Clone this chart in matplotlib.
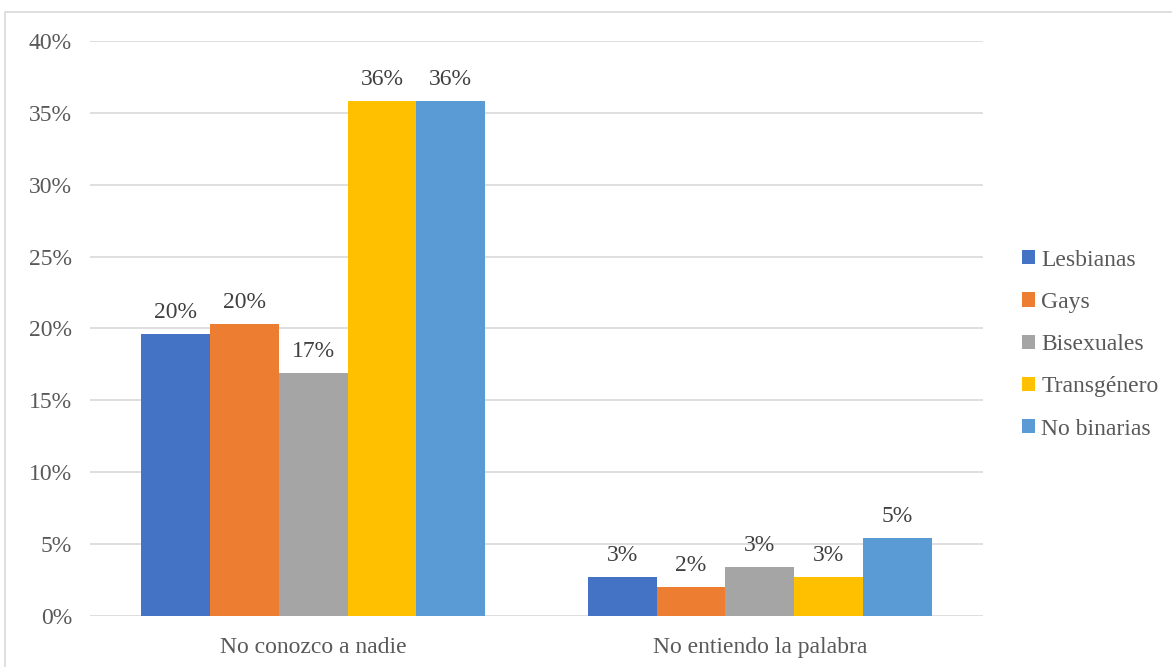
import numpy as np
import matplotlib.pyplot as plt
from matplotlib.patches import Rectangle

plt.rcParams['font.family'] = ['Liberation Serif', 'DejaVu Serif']

categorias = ["No conozco a nadie", "No entiendo la palabra"]
grupos = ["Lesbianas", "Gays", "Bisexuales", "Transgénero", "No binarias"]
lesbianas = [19.6, 2.7]
gays = [20.3, 2.0]
bisexuales = [16.9, 3.4]
transgenero = [35.8, 2.7]
no_binarias = [35.8, 5.4]
valores = [lesbianas, gays, bisexuales, transgenero, no_binarias]
colores = ["#4472C4", "#ED7D31", "#A5A5A5", "#FFC000", "#5B9BD5"]

fig = plt.figure(figsize=(11.72, 6.67), dpi=100)
ax = fig.add_axes([0.0768, 0.0765, 0.762, 0.862])

# borde del gráfico
fig.patches.append(Rectangle((0.004, -0.1), 1.1, 1.082, transform=fig.transFigure,
                             fill=False, edgecolor="#D9D9D9", linewidth=1.2))

x = np.arange(len(categorias))
ancho = 0.154
for i, (nombre, serie, color) in enumerate(zip(grupos, valores, colores)):
    pos = x + (i - 2) * ancho
    ax.bar(pos, serie, ancho, color=color, label=nombre, zorder=3)
    for p, v in zip(pos, serie):
        ax.text(p, v + 0.8, f"{v:.0f}%", ha="center", va="bottom",
                fontsize=17, color="#404040")

ax.set_xlim(-0.5, 1.5)
ax.set_ylim(0, 40)
ax.set_yticks(range(0, 41, 5))
ax.set_yticklabels([f"{t}%" for t in range(0, 41, 5)])
ax.set_xticks(x)
ax.set_xticklabels(categorias)
ax.tick_params(axis="both", length=0, labelsize=17, labelcolor="#595959")
ax.tick_params(axis="y", pad=13)
ax.tick_params(axis="x", pad=15)
ax.grid(axis="y", color="#D9D9D9", linewidth=1.2, zorder=0)
for s in ax.spines.values():
    s.set_visible(False)

ax.legend(loc="center left", bbox_to_anchor=(1.02, 0.472), frameon=False,
          fontsize=17, handlelength=0.55, handleheight=0.55, handletextpad=0.25,
          labelspacing=0.9, labelcolor="#595959")

fig.savefig("out.png", dpi=100)
